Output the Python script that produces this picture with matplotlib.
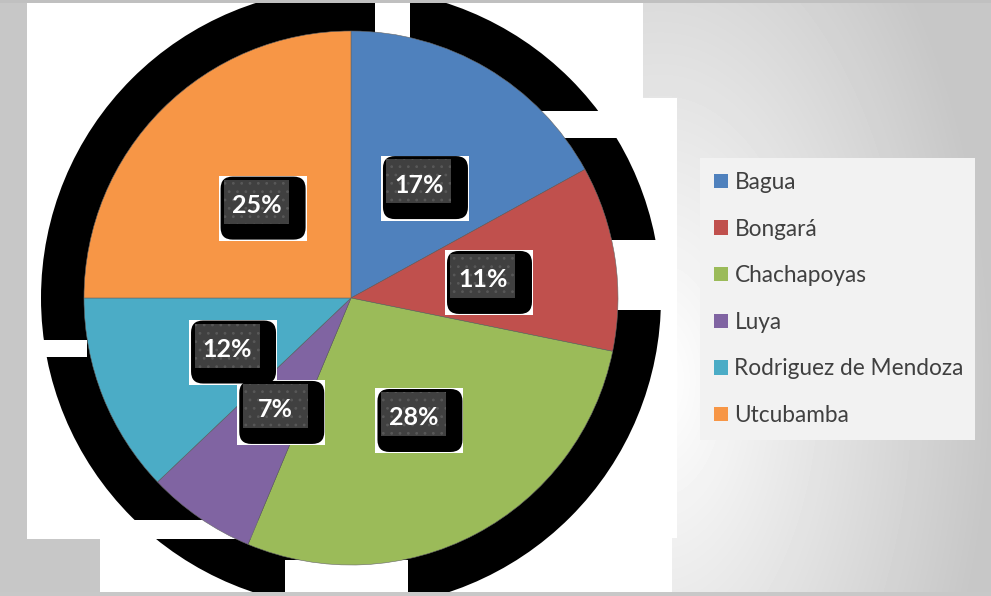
import numpy as np
import matplotlib.pyplot as plt
from matplotlib.patches import Circle, Rectangle, FancyBboxPatch

provincias = ['Bagua', 'Bongará', 'Chachapoyas', 'Luya', 'Rodriguez de Mendoza', 'Utcubamba']
porcentajes = [17.0, 11.2, 28.1, 6.6, 12.1, 25.0]
colores = ['#4f81bd', '#c0504d', '#9bbb59', '#8064a2', '#4bacc6', '#f79646']

W, H = 991, 596
plt.rcParams['font.family'] = ['Lato', 'DejaVu Sans']
plt.rcParams['hatch.linewidth'] = 0.8

fig = plt.figure(figsize=(W / 100, H / 100), dpi=100)

# fondo en pixeles
bg = fig.add_axes([0, 0, 1, 1])
bg.set_xlim(0, W)
bg.set_ylim(H, 0)
bg.axis('off')
yy, xx = np.mgrid[0:H, 0:W]
d = np.hypot(xx - 660, (yy - 380) / 1.8)
grad = 1 - 0.22 * np.clip(d / 330, 0, 1)
bg.imshow(grad, cmap='gray', vmin=0, vmax=1, extent=(0, W, H, 0), aspect='auto')
for r in [(27, 3, 616, 95), (27, 98, 650, 440), (100, 538, 572, 54)]:
    bg.add_patch(Rectangle((r[0], r[1]), r[2], r[3], fc='white', ec='none'))

# sombra negra
bg.add_patch(Circle((351, 298), 310, fc='black', ec='none'))
for r in [(375, 0, 35, 40), (540, 111, 137, 27), (600, 240, 77, 70),
          (27, 340, 60, 17), (27, 520, 265, 19), (285, 560, 123, 32)]:
    bg.add_patch(Rectangle((r[0], r[1]), r[2], r[3], fc='white', ec='none'))
bg.add_patch(Rectangle((0, 0), W, 3, fc='#c0c0c0', ec='none'))
bg.add_patch(Rectangle((0, 592), W, 4, fc='#c8c8c8', ec='none'))

# pastel
ax = fig.add_axes([84 / W, (H - 565) / H, 534 / W, 534 / H])
wedges, texts, autotexts = ax.pie(porcentajes, colors=colores, startangle=90,
                                  counterclock=False, radius=1,
                                  wedgeprops=dict(linewidth=0.4, edgecolor='#666666'),
                                  autopct='%.0f%%', pctdistance=0.5,
                                  textprops=dict(color='white', fontsize=18,
                                                 fontweight='bold'))
ax.set_xlim(-1, 1)
ax.set_ylim(-1, 1)

px = 1 / 267
for t in autotexts:
    x, y = t.get_position()
    t.set_zorder(7)
    t.set_va('center_baseline')
    t.set_ha('center')
    # marco blanco
    ax.add_patch(Rectangle((x - 38 * px, y - 37.5 * px), 88 * px, 65 * px,
                           fc='white', ec='none', zorder=3))
    # sombra del recuadro
    ax.add_patch(FancyBboxPatch((x - 36 * px, y - 36 * px), 85 * px, 63 * px,
                                boxstyle='round,pad=0,rounding_size=%f' % (12 * px),
                                fc='black', ec='none', zorder=4))
    # recuadro gris oscuro
    ax.add_patch(Rectangle((x - 32.5 * px, y - 20 * px), 65 * px, 44 * px,
                           fc='#404040', ec='none', zorder=5))
    ax.add_patch(Rectangle((x - 32.5 * px, y - 20 * px), 65 * px, 44 * px,
                           fc='none', ec='#585858', lw=0, hatch='..', zorder=6))

handles = [Rectangle((0, 0), 1, 1, fc=c, ec='none') for c in colores]
fig.legend(handles, provincias, loc='upper left',
           bbox_to_anchor=(700 / W, (H - 437) / H, 275 / W, 279 / H),
           mode='expand', frameon=True, fancybox=False, facecolor='#f2f2f2',
           edgecolor='none', framealpha=1, fontsize=16.3, labelcolor='#404040',
           handlelength=0.6, handleheight=0.6, handletextpad=0.3,
           labelspacing=1.13, borderpad=0.62, borderaxespad=0)

fig.savefig('out.png', dpi=100)
